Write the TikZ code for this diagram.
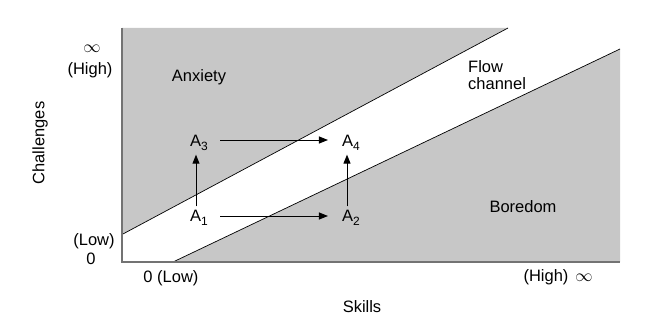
\documentclass[tikz,border=0pt]{standalone}
\usepackage{fontspec}
\setmainfont{Liberation Sans}
\usetikzlibrary{arrows.meta}
\newcommand{\subnum}[1]{\raisebox{-3.5pt}{\fontsize{12}{12}\selectfont #1}}
\begin{document}
\begin{tikzpicture}[x=1pt,y=-1pt,
  lbl/.style={inner sep=0pt,font=\fontsize{16.5}{18}\selectfont},
  anode/.style={inner sep=1pt,font=\fontsize{16.5}{18}\selectfont},
  arr/.style={-{Triangle[length=9pt,width=7pt]},line width=0.9pt},
  zone/.style={fill=black!22,draw=none},
  bound/.style={line width=0.7pt,black},
  axis/.style={line width=1.8pt,black!55}]
\useasboundingbox (0,0) rectangle (655,331);
% shaded zones
\fill[zone] (122,28) -- (508,28) -- (122,234.5) -- cycle;
\fill[zone] (173,262) -- (620,49) -- (620,262) -- cycle;
% boundary lines
\draw[bound] (122,234.5) -- (508,28);
\draw[bound] (173,262) -- (620,49);
% axes
\draw[axis] (122,28) -- (122,262) -- (620,262);
% labels
\node[lbl] (inf1) at (92,49) {$\infty$};
\node[lbl] (high1) at (90,70) {(High)};
\node[lbl] (anx) at (199,77) {Anxiety};
\node[lbl,rotate=90] (chal) at (40,143) {Challenges};
\node[lbl] (low1) at (94,241) {(Low)};
\node[lbl] (zero1) at (91,259) {0};
\node[lbl] (low2) at (171,278) {0 (Low)};
\node[lbl] (high2) at (546,277) {(High)};
\node[lbl] (inf2) at (584,278) {$\infty$};
\node[lbl] (skills) at (362,307) {Skills};
\node[lbl,anchor=west,align=left] (flow) at (468,75) {Flow\\[-1pt]channel};
\node[lbl] (bore) at (523,207) {Boredom};
% states
\node[anode] (A1) at (199,218) {A\subnum{1}};
\node[anode] (A2) at (351,218) {A\subnum{2}};
\node[anode] (A3) at (199,143) {A\subnum{3}};
\node[anode] (A4) at (351,143) {A\subnum{4}};
% arrows
\draw[arr] ([xshift=-3pt,yshift=3pt]A1.north) -- ([xshift=-3pt,yshift=-3pt]A3.south);
\draw[arr] ([xshift=-4pt,yshift=3pt]A2.north) -- ([xshift=-4pt,yshift=-3pt]A4.south);
\draw[arr,shorten <=11pt,shorten >=13pt] ([yshift=2pt]A1.east) -- ([yshift=2pt]A2.west);
\draw[arr,shorten <=11pt,shorten >=13pt] ([yshift=3pt]A3.east) -- ([yshift=3pt]A4.west);
\end{tikzpicture}
\end{document}
